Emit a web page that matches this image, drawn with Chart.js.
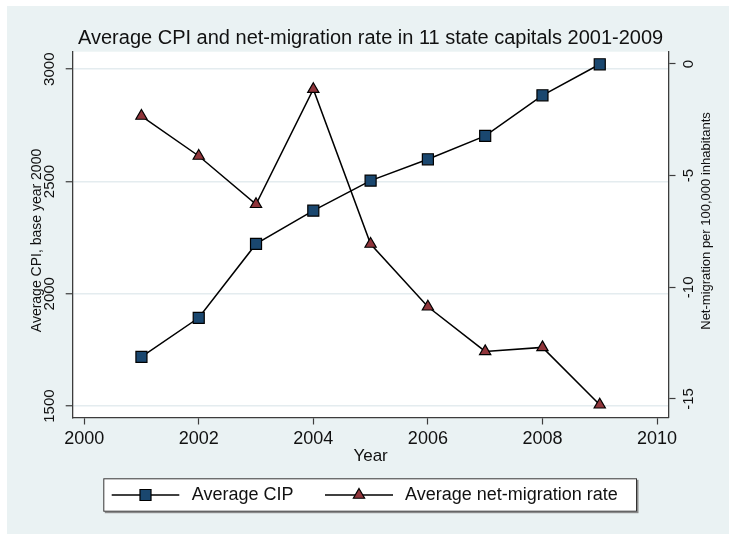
<!DOCTYPE html>
<html>
<head>
<meta charset="utf-8">
<script src="https://cdn.jsdelivr.net/npm/chart.js@4.4.1/dist/chart.umd.min.js"></script>
<style>
  html, body { margin: 0; padding: 0; background: #ffffff; }
  #wrap { position: absolute; left: 7px; top: 6px; width: 722px; height: 528px; }
</style>
</head>
<body>
<div id="wrap"><canvas id="c" width="722" height="528"></canvas></div>
<script>
// Data: average consumer price index and net migration, 11 state capitals
const years = [2001, 2002, 2003, 2004, 2005, 2006, 2007, 2008, 2009];
const avgCPI = [1719, 1893, 2222, 2370, 2504, 2599, 2703, 2884, 3022];
const netMigration = [-2.33, -4.12, -6.28, -1.13, -8.06, -10.87, -12.87, -12.69, -15.26];

// Axis tick labels
const yearTicks = [2000, 2002, 2004, 2006, 2008, 2010];
const cpiTicks = [1500, 2000, 2500, 3000];
const migrationTicks = [-15, -10, -5, 0];

const FONT = "'Liberation Sans', Arial, Helvetica, sans-serif";
const NAVY = '#1a476f';
const MAROON = '#90353b';
const AXIS = '#3c3c3c';

const cpiSeries = {
  label: 'Average CIP',
  data: years.map((y, i) => ({ x: y, y: avgCPI[i] })),
  yAxisID: 'yL',
  borderColor: '#000000',
  borderWidth: 1.5,
  backgroundColor: NAVY,
  pointStyle: 'rect',
  pointRadius: 7.8,
  pointHoverRadius: 7.8,
  pointBackgroundColor: NAVY,
  pointBorderColor: '#000000',
  pointBorderWidth: 1.2,
  tension: 0,
  clip: false,
  order: 2
};

const migrationSeries = {
  label: 'Average net-migration rate',
  data: years.map((y, i) => ({ x: y, y: netMigration[i] })),
  yAxisID: 'yR',
  borderColor: '#000000',
  borderWidth: 1.5,
  backgroundColor: MAROON,
  pointStyle: 'triangle',
  pointRadius: 6.5,
  pointHoverRadius: 6.5,
  pointBackgroundColor: MAROON,
  pointBorderColor: '#000000',
  pointBorderWidth: 1.2,
  tension: 0,
  clip: false,
  order: 1
};

function fixedTicks(values) {
  return function (scale) { scale.ticks = values.map(v => ({ value: v })); };
}

// Background, rotated y labels, axis titles and the legend
const decor = {
  id: 'decor',
  beforeDraw(chart) {
    const { ctx, chartArea: a } = chart;
    ctx.save();
    ctx.fillStyle = '#eaf2f3';
    ctx.fillRect(0, 0, chart.width, chart.height);
    ctx.fillStyle = '#ffffff';
    ctx.fillRect(a.left, a.top, a.right - a.left, a.bottom - a.top);
    ctx.restore();
  },
  afterDraw(chart) {
    const { ctx } = chart;
    const yL = chart.scales.yL, yR = chart.scales.yR;

    function vText(text, x, y, size) {
      ctx.save();
      ctx.translate(x, y);
      ctx.rotate(-Math.PI / 2);
      ctx.font = size + 'px ' + FONT;
      ctx.fillStyle = '#111111';
      ctx.textAlign = 'center';
      ctx.textBaseline = 'middle';
      ctx.fillText(text, 0, 0);
      ctx.restore();
    }

    cpiTicks.forEach(v => vText(String(v), 43, yL.getPixelForValue(v), 15));
    migrationTicks.forEach(v => vText(String(v), 682, yR.getPixelForValue(v), 15));
    vText('Average CPI, base year 2000', 30, 234.5, 14);
    vText('Net-migration per 100,000 inhabitants', 699, 215, 13);

    // legend box
    const bx = 96.3, by = 472.3, bw = 533.7, bh = 33.4;
    ctx.save();
    ctx.fillStyle = '#8a8a8a';
    ctx.fillRect(bx + 1.5, by + 1.5, bw, bh);
    ctx.fillStyle = '#ffffff';
    ctx.fillRect(bx, by, bw, bh);
    ctx.strokeStyle = '#333333';
    ctx.lineWidth = 1;
    ctx.strokeRect(bx + 0.5, by + 0.5, bw - 1, bh - 1);

    const ly = 489;
    const items = [
      { ds: cpiSeries, x0: 104.7, x1: 172.3, mx: 138.5, tx: 184.7 },
      { ds: migrationSeries, x0: 318, x1: 386, mx: 352, tx: 398 }
    ];
    items.forEach(it => {
      ctx.strokeStyle = '#000000';
      ctx.lineWidth = 1.5;
      ctx.beginPath();
      ctx.moveTo(it.x0, ly);
      ctx.lineTo(it.x1, ly);
      ctx.stroke();
      ctx.fillStyle = it.ds.pointBackgroundColor;
      ctx.strokeStyle = it.ds.pointBorderColor;
      ctx.lineWidth = it.ds.pointBorderWidth;
      Chart.helpers.drawPoint(ctx, {
        pointStyle: it.ds.pointStyle,
        radius: it.ds.pointRadius,
        rotation: 0,
        borderWidth: it.ds.pointBorderWidth
      }, it.mx, ly);
      ctx.fillStyle = '#111111';
      ctx.font = '18px ' + FONT;
      ctx.textAlign = 'left';
      ctx.textBaseline = 'middle';
      ctx.fillText(it.ds.label, it.tx, ly);
    });
    ctx.restore();
  }
};

new Chart(document.getElementById('c'), {
  type: 'line',
  data: { datasets: [cpiSeries, migrationSeries] },
  plugins: [decor],
  options: {
    responsive: false,
    animation: false,
    events: [],
    layout: { padding: 0 },
    plugins: {
      legend: { display: false },
      tooltip: { enabled: false },
      title: {
        display: true,
        fullSize: false,
        text: 'Average CPI and net-migration rate in 11 state capitals 2001-2009',
        color: '#111111',
        font: { family: FONT, size: 20, weight: 'normal', lineHeight: 1.2 },
        padding: { top: 20, bottom: 1.7 }
      }
    },
    scales: {
      x: {
        type: 'linear',
        position: 'bottom',
        min: 1999.8,
        max: 2010.2,
        afterBuildTicks: fixedTicks(yearTicks),
        afterFit(scale) { scale.height = 116.5; },
        ticks: {
          color: '#111111',
          font: { family: FONT, size: 18 },
          padding: 4,
          maxRotation: 0,
          callback: v => String(v)
        },
        grid: {
          drawOnChartArea: false,
          drawTicks: true,
          tickLength: 7,
          tickColor: AXIS,
          tickWidth: 1.2
        },
        border: { display: true, color: AXIS, width: 1.3 },
        title: {
          display: true,
          text: 'Year',
          color: '#111111',
          font: { family: FONT, size: 17, lineHeight: 1.2 },
          padding: { top: 0, bottom: 67.8 }
        }
      },
      yL: {
        type: 'linear',
        position: 'left',
        min: 1449,
        max: 3078,
        afterBuildTicks: fixedTicks(cpiTicks),
        afterFit(scale) { scale.width = 65.7; },
        ticks: { display: false },
        grid: {
          drawOnChartArea: true,
          color: '#e4ecef',
          lineWidth: 1.5,
          drawTicks: true,
          tickLength: 7,
          tickColor: AXIS,
          tickWidth: 1.2
        },
        border: { display: true, color: AXIS, width: 1.3 }
      },
      yR: {
        type: 'linear',
        position: 'right',
        min: -15.83,
        max: 0.55,
        afterBuildTicks: fixedTicks(migrationTicks),
        afterFit(scale) { scale.width = 60.5; },
        ticks: { display: false },
        grid: {
          drawOnChartArea: false,
          drawTicks: true,
          tickLength: 7,
          tickColor: AXIS,
          tickWidth: 1.2
        },
        border: { display: true, color: AXIS, width: 1.3 }
      }
    }
  }
});
</script>
</body>
</html>
